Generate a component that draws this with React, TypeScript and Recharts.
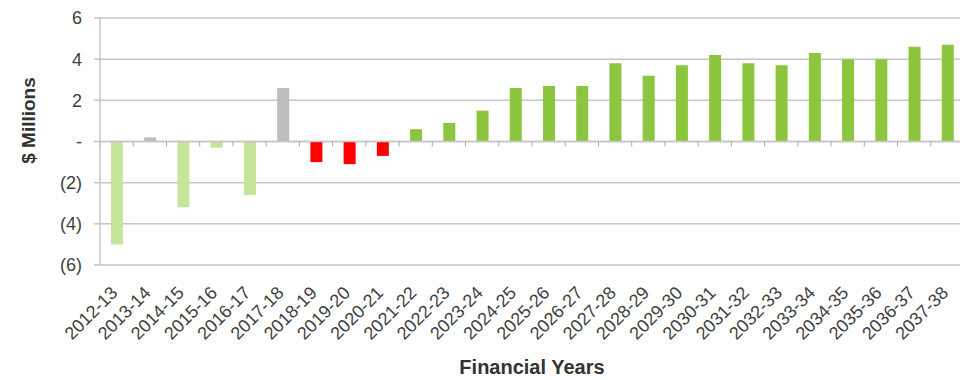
import React from 'react';
import { BarChart, Bar, XAxis, YAxis, CartesianGrid, ReferenceLine, Cell, Label } from 'recharts';

const years = [
  '2012-13', '2013-14', '2014-15', '2015-16', '2016-17', '2017-18', '2018-19',
  '2019-20', '2020-21', '2021-22', '2022-23', '2023-24', '2024-25', '2025-26',
  '2026-27', '2027-28', '2028-29', '2029-30', '2030-31', '2031-32', '2032-33',
  '2033-34', '2034-35', '2035-36', '2036-37', '2037-38',
];

// operating result, $ millions
const result = [
  -5.0, 0.2, -3.2, -0.3, -2.6, 2.6, -1.0, -1.1, -0.7, 0.6, 0.9, 1.5, 2.6,
  2.7, 2.7, 3.8, 3.2, 3.7, 4.2, 3.8, 3.7, 4.3, 4.0, 4.0, 4.6, 4.7,
];

// which colour group each year's bar falls into
const group = [
  'past', 'neutral', 'past', 'past', 'past', 'neutral', 'deficit', 'deficit',
  'deficit', 'plan', 'plan', 'plan', 'plan', 'plan', 'plan', 'plan', 'plan',
  'plan', 'plan', 'plan', 'plan', 'plan', 'plan', 'plan', 'plan', 'plan',
];

const yTicks = [-6, -4, -2, 0, 2, 4, 6];

const colours: Record<string, string> = {
  past: '#c4e59a',
  neutral: '#bdbdbd',
  deficit: '#ff0000',
  plan: '#8cc63f',
};

const font = "'Liberation Sans', Arial, sans-serif";
const gridColour = '#c6c6c6';

const data = years.map((year, i) => ({ year, value: result[i], group: group[i] }));

const money = (v: number) => (v === 0 ? '-' : v < 0 ? `(${Math.abs(v)})` : `${v}`);

const YearTick = (props: any) => {
  const { x, y, payload } = props;
  const ax = x + 2;
  const ay = y + 29;
  return (
    <text
      x={ax}
      y={ay}
      transform={`rotate(-45, ${ax}, ${ay})`}
      textAnchor="end"
      fontSize={18}
      fontFamily={font}
      fill="#404040"
    >
      {payload.value}
    </text>
  );
};

// zero line with little tick marks between the years
const ZeroLine = (props: any) => {
  const { x1, x2, y1 } = props;
  const step = (x2 - x1) / years.length;
  return (
    <g>
      <line x1={x1} x2={x2} y1={y1} y2={y1} stroke={gridColour} strokeWidth={1.5} />
      {Array.from({ length: years.length + 1 }, (_, i) => (
        <line
          key={i}
          x1={x1 + i * step}
          x2={x1 + i * step}
          y1={y1}
          y2={y1 + 5}
          stroke="#a8a8a8"
          strokeWidth={1}
        />
      ))}
    </g>
  );
};

export default function App() {
  return (
    <div style={{ position: 'absolute', left: 0, top: 0, width: 960, height: 380, overflow: 'hidden', background: '#fff' }}>
      <BarChart width={970} height={380} data={data} margin={{ top: 18, right: 6, bottom: 0, left: 0 }}>
        <CartesianGrid vertical={false} stroke={gridColour} strokeWidth={1.5} />
        <XAxis
          dataKey="year"
          height={115}
          interval={0}
          axisLine={false}
          tickLine={false}
          tickSize={0}
          tickMargin={0}
          tick={<YearTick />}
        >
          <Label
            content={(p: any) => {
              const vb = p.viewBox;
              return (
                <text
                  x={vb.x + vb.width / 2}
                  y={vb.y + 109}
                  textAnchor="middle"
                  fontSize={20}
                  fontWeight="bold"
                  fontFamily={font}
                  fill="#333"
                >
                  Financial Years
                </text>
              );
            }}
          />
        </XAxis>
        <YAxis
          width={100}
          domain={[-6, 6]}
          ticks={yTicks}
          interval={0}
          tickFormatter={money}
          axisLine={{ stroke: gridColour, strokeWidth: 1.5 }}
          tickLine={{ stroke: gridColour, strokeWidth: 1.5 }}
          tickSize={6}
          tickMargin={12}
          tick={{ fontSize: 18, fill: '#404040', fontFamily: font }}
        >
          <Label
            content={(p: any) => {
              const vb = p.viewBox;
              const cx = vb.x + 28;
              const cy = vb.y + vb.height / 2 - 21;
              return (
                <text
                  x={cx}
                  y={cy}
                  transform={`rotate(-90, ${cx}, ${cy})`}
                  textAnchor="middle"
                  dominantBaseline="central"
                  fontSize={19}
                  fontWeight="bold"
                  fontFamily={font}
                  fill="#333"
                >
                  $ Millions
                </text>
              );
            }}
          />
        </YAxis>
        <ReferenceLine y={0} shape={<ZeroLine />} />
        <Bar dataKey="value" barSize={12} isAnimationActive={false}>
          {data.map((d) => (
            <Cell key={d.year} fill={colours[d.group]} />
          ))}
        </Bar>
      </BarChart>
    </div>
  );
}
